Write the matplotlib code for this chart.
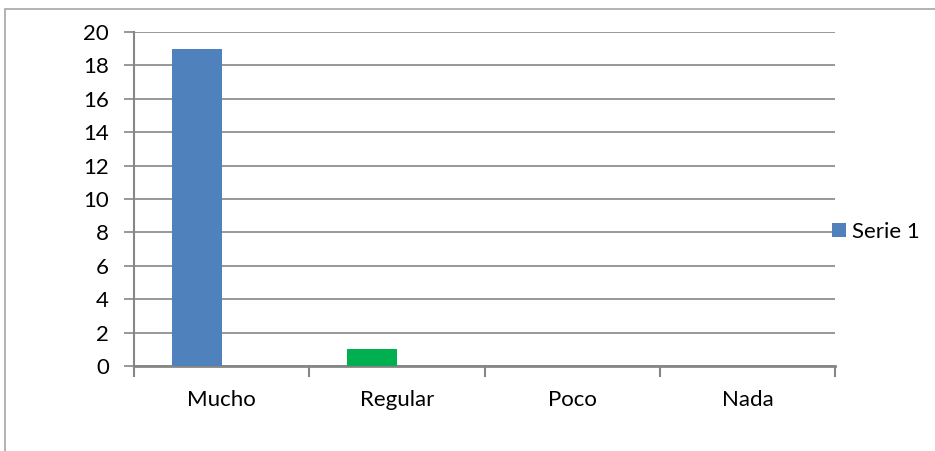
import matplotlib
matplotlib.use("Agg")
import matplotlib.pyplot as plt
from matplotlib.patches import Rectangle, Patch
import numpy as np

categories = ["Mucho", "Regular", "Poco", "Nada"]
values = [19, 1, 0, 0]
bar_colors = ["#4F81BD", "#00B050", "#4F81BD", "#4F81BD"]
series_name = "Serie 1"
y_ticks = [0, 2, 4, 6, 8, 10, 12, 14, 16, 18, 20]

plt.rcParams["font.family"] = ["Lato", "DejaVu Sans"]

W, H = 935, 451
fig = plt.figure(figsize=(W / 100, H / 100), dpi=100)
fig.patch.set_facecolor("white")

# chart frame
fig.add_artist(Rectangle((5 / W, -0.1), 1.2, (H - 9) / H + 0.1, transform=fig.transFigure,
                         fill=False, edgecolor="#A6A6A6", linewidth=1.2))

ax = fig.add_axes([134 / W, 1 - 366 / H, (835 - 134) / W, (366 - 32) / H])
grid_c = "#868686"
fs = 16

x = np.arange(len(categories))
bw = 50 / 175.25
ax.bar(x - bw, values, width=bw, align="edge", color=bar_colors, zorder=3)

ax.set_xlim(-0.5, len(categories) - 0.5)
ax.set_ylim(0, 20)
ax.set_yticks(y_ticks)
ax.yaxis.grid(True, color=grid_c, linewidth=1.2, zorder=0)
ax.set_axisbelow(True)

# category boundaries carry the tick marks, labels sit in the middle
ax.set_xticks(np.arange(len(categories) + 1) - 0.5)
ax.set_xticklabels([])
ax.set_xticks(x, minor=True)
ax.set_xticklabels(categories, minor=True)
ax.tick_params(axis="x", which="minor", length=0, pad=17, labelsize=fs)
ax.tick_params(axis="x", which="major", length=8, width=1.5, color=grid_c, direction="out")
ax.tick_params(axis="y", length=7, width=1.2, color=grid_c, pad=11, labelsize=fs)

for s in ["top", "right"]:
    ax.spines[s].set_visible(False)
ax.spines["left"].set_color(grid_c)
ax.spines["left"].set_linewidth(1.5)
ax.spines["bottom"].set_color(grid_c)
ax.spines["bottom"].set_linewidth(2)

handle = Patch(facecolor="#4F81BD", edgecolor="none")
fig.legend([handle], [series_name], loc="center left",
           bbox_to_anchor=(832 / W, 1 - 232 / H), frameon=False, fontsize=fs,
           handlelength=0.63, handleheight=0.63, handletextpad=0.25, borderaxespad=0,
           borderpad=0)

fig.savefig("out.png", dpi=100, facecolor="white")
